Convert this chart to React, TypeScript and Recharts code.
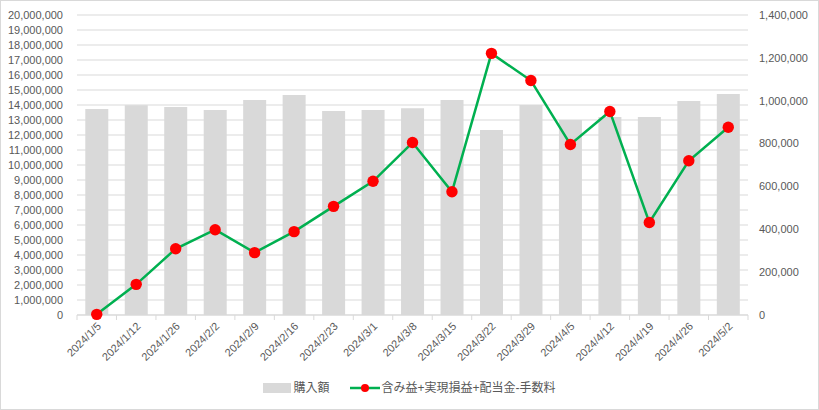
import React from 'react';
import { ComposedChart, Bar, Line, XAxis, YAxis, CartesianGrid, Legend } from 'recharts';

const categories = ['2024/1/5','2024/1/12','2024/1/26','2024/2/2','2024/2/9','2024/2/16','2024/2/23','2024/3/1','2024/3/8','2024/3/15','2024/3/22','2024/3/29','2024/4/5','2024/4/12','2024/4/19','2024/4/26','2024/5/2'];
const purchaseAmount = [13730000,13980000,13870000,13670000,14330000,14670000,13600000,13670000,13780000,14330000,12330000,14000000,13000000,13200000,13200000,14270000,14730000];
const profitValues = [3000,143000,309000,398000,291000,389000,507000,624000,805000,575000,1221000,1094000,796000,950000,432000,720000,876000];
const leftTicks = [0,1000000,2000000,3000000,4000000,5000000,6000000,7000000,8000000,9000000,10000000,11000000,12000000,13000000,14000000,15000000,16000000,17000000,18000000,19000000,20000000];
const rightTicks = [0,200000,400000,600000,800000,1000000,1200000,1400000];
const barName = '購入額';
const lineName = '含み益+実現損益+配当金-手数料';

const data = categories.map((c, i) => ({ date: c, amount: purchaseAmount[i], profit: profitValues[i] }));

const W = 819;
const H = 410;
const PLOT_LEFT = 77;
const PLOT_RIGHT = 748;
const BAND = (PLOT_RIGHT - PLOT_LEFT) / categories.length;
const FONT = '"Liberation Sans", "Noto Sans CJK JP", sans-serif';
const fmt = (v: number) => v.toLocaleString('en-US');

const XTick = (props: any) => {
  const { x, y, payload, index } = props;
  const isLast = index === categories.length - 1;
  return (
    <g>
      <line x1={x - BAND / 2} y1={y} x2={x - BAND / 2} y2={y + 5} stroke="#d9d9d9" />
      {isLast && <line x1={x + BAND / 2} y1={y} x2={x + BAND / 2} y2={y + 5} stroke="#d9d9d9" />}
      <text
        x={0}
        y={0}
        transform={`translate(${x + 5},${y + 12}) rotate(-45)`}
        textAnchor="end"
        fill="#595959"
        fontSize={11}
        fontFamily={FONT}
      >
        {payload.value}
      </text>
    </g>
  );
};

const LegendContent = () => (
  <div
    style={{
      height: 35,
      boxSizing: 'border-box',
      paddingTop: 6,
      display: 'flex',
      justifyContent: 'center',
      alignItems: 'flex-start',
      fontFamily: FONT,
      fontSize: 12,
      color: '#595959',
      lineHeight: '14px',
    }}
  >
    <div style={{ display: 'flex', alignItems: 'center', marginRight: 20 }}>
      <span style={{ display: 'inline-block', width: 28, height: 10, background: '#d9d9d9', marginRight: 2 }} />
      <span>{barName}</span>
    </div>
    <div style={{ display: 'flex', alignItems: 'center' }}>
      <svg width={30} height={10} style={{ marginRight: 2 }}>
        <line x1={0} y1={5} x2={30} y2={5} stroke="#00b050" strokeWidth={2.5} />
        <circle cx={15} cy={5} r={4} fill="#ff0000" />
      </svg>
      <span>{lineName}</span>
    </div>
  </div>
);

const renderDot = (props: any) => {
  const { cx, cy, index } = props;
  return <circle key={`d${index}`} cx={cx} cy={cy} r={5.7} fill="#ff0000" stroke="none" />;
};

export default function App() {
  return (
    <div style={{ position: 'absolute', left: 0, top: 0, width: W, height: H, background: '#fff' }}>
      <ComposedChart
        width={W}
        height={H}
        data={data}
        margin={{ top: 15, right: 10, bottom: 0, left: 10 }}
        barCategoryGap="21%"
      >
        <CartesianGrid vertical={false} stroke="#d9d9d9" yAxisId="left" />
        <XAxis
          dataKey="date"
          interval={0}
          height={60}
          tickSize={0}
          tickMargin={0}
          tickLine={false}
          axisLine={{ stroke: '#d9d9d9' }}
          tick={<XTick />}
        />
        <YAxis
          yAxisId="left"
          orientation="left"
          width={67}
          domain={[0, 20000000]}
          ticks={leftTicks}
          interval={0}
          tickFormatter={fmt}
          axisLine={false}
          tickLine={false}
          tickSize={6}
          tickMargin={8}
          tick={{ fill: '#595959', fontSize: 11, fontFamily: FONT }}
        />
        <YAxis
          yAxisId="right"
          orientation="right"
          width={61}
          domain={[0, 1400000]}
          ticks={rightTicks}
          interval={0}
          tickFormatter={fmt}
          axisLine={false}
          tickLine={false}
          tickSize={6}
          tickMargin={5}
          tick={{ fill: '#595959', fontSize: 11, fontFamily: FONT }}
        />
        <Legend verticalAlign="bottom" content={<LegendContent />} />
        <Bar yAxisId="left" dataKey="amount" name={barName} fill="#d9d9d9" isAnimationActive={false} />
        <Line
          yAxisId="right"
          dataKey="profit"
          name={lineName}
          type="linear"
          stroke="#00b050"
          strokeWidth={2.5}
          dot={renderDot}
          activeDot={false}
          isAnimationActive={false}
        />
      </ComposedChart>
      <div
        style={{
          position: 'absolute',
          left: 0,
          top: 0,
          width: W - 2,
          height: H - 2,
          border: '1px solid #d9d9d9',
          pointerEvents: 'none',
        }}
      />
    </div>
  );
}
